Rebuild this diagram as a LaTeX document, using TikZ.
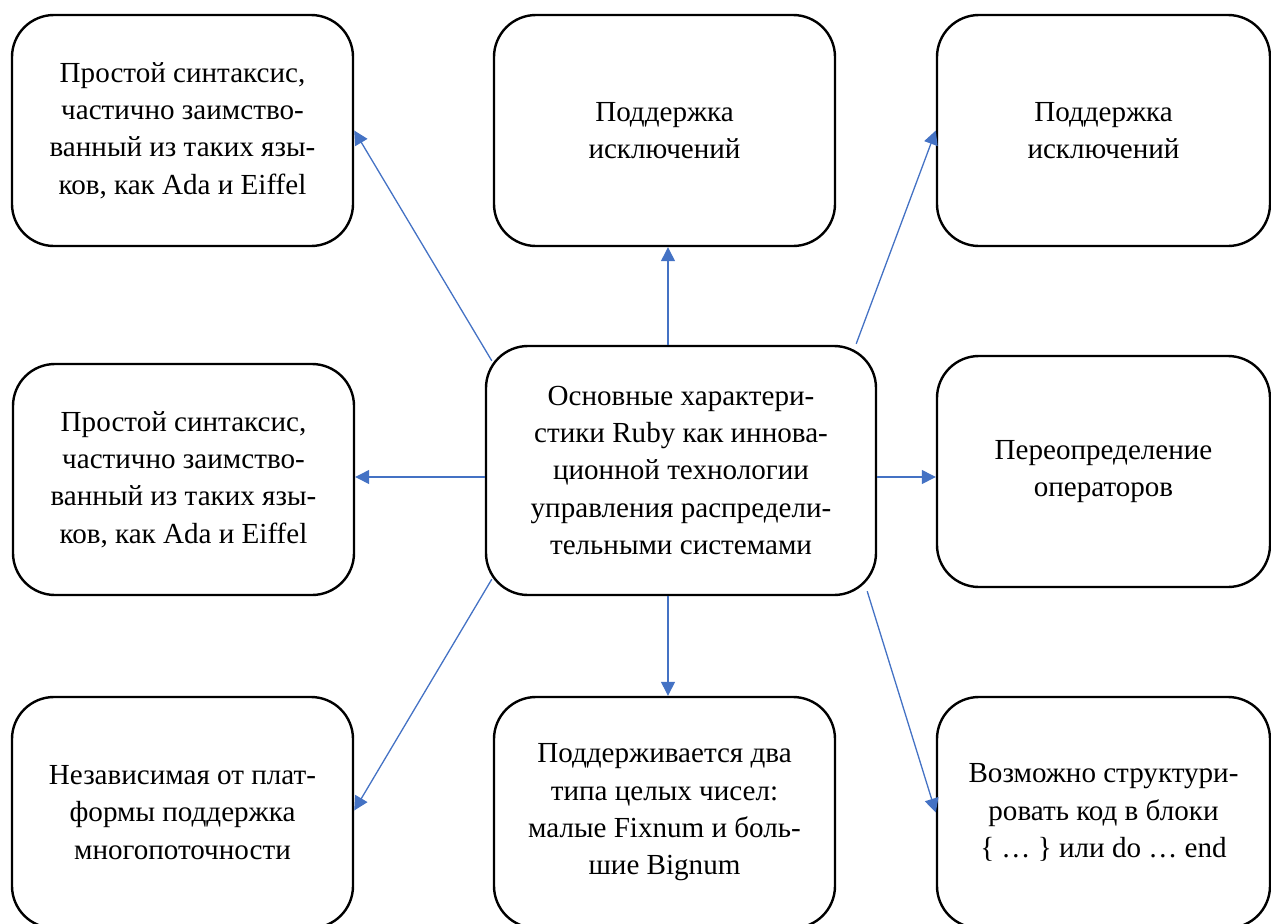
\documentclass[tikz,border=0pt]{standalone}
\usepackage{fontspec}
\setmainfont{Liberation Serif}
\usetikzlibrary{arrows.meta,calc}
\definecolor{arrowblue}{HTML}{4472C4}
\begin{document}
\begin{tikzpicture}[x=1bp,y=-1bp,
  box/.style={draw=black, line width=2.4bp, rounded corners=42bp, align=center,
    font=\fontsize{29.2}{37.5}\selectfont, inner sep=0pt,
    minimum width=341bp, minimum height=231bp},
  rbox/.style={box, minimum width=333bp},
  link/.style={draw=arrowblue, line width=1.3bp, -{Triangle[length=14bp,width=14bp]}}]
\useasboundingbox (0,0) rectangle (1271,924);
\clip (0,0) rectangle (1271,924);

\node[box] (tl) at (182.5,130.5) {Простой синтаксис,\\частично заимство-\\ванный из таких язы-\\ков, как Ada и Eiffel};
\node[box] (tc) at (664.5,130.5) {Поддержка\\исключений};
\node[rbox] (tr) at (1103.5,130.5) {Поддержка\\исключений};
\node[box] (ml) at (183.5,479.5) {Простой синтаксис,\\частично заимство-\\ванный из таких язы-\\ков, как Ada и Eiffel};
\node[box, minimum width=390bp, minimum height=249bp] (c) at (681,470.5) {Основные характери-\\стики Ruby как иннова-\\ционной технологии\\управления распредели-\\тельными системами};
\node[rbox] (mr) at (1103.5,471.5) {Переопределение\\операторов};
\node[box] (bl) at (182.5,812.5) {Независимая от плат-\\формы поддержка\\многопоточности};
\node[box] (bc) at (664.5,812.5) {Поддерживается два\\типа целых чисел:\\малые Fixnum и боль-\\шие Bignum};
\node[rbox] (br) at (1103.5,812.5) {Возможно структури-\\ровать код в блоки\\\{ … \} или do … end};

\coordinate (sN) at ($(c.north)+(-13,0)$);
\coordinate (sS) at ($(c.south)+(-13,0)$);
\coordinate (sW) at ($(c.west)+(0,6.5)$);
\coordinate (sE) at ($(c.east)+(0,6.5)$);
\coordinate (sNW) at ($(c.north west)+(7,16)$);
\coordinate (sNE) at ($(c.north east)+(-21,-1)$);
\coordinate (sSW) at ($(c.south west)+(7,-17)$);
\coordinate (sSE) at ($(c.south east)+(-10,-5)$);

\draw[link] (sN) -- (sN |- tc.south);
\draw[link] (sS) -- (sS |- bc.north);
\draw[link] (sW) -- (sW -| ml.east);
\draw[link] (sE) -- (sE -| mr.west);
\draw[link] (sNW) -- (tl.east);
\draw[link] (sNE) -- (tr.west);
\draw[link] (sSW) -- ($(bl.east)+(0,-2)$);
\draw[link] (sSE) -- (br.west);
\end{tikzpicture}
\end{document}
